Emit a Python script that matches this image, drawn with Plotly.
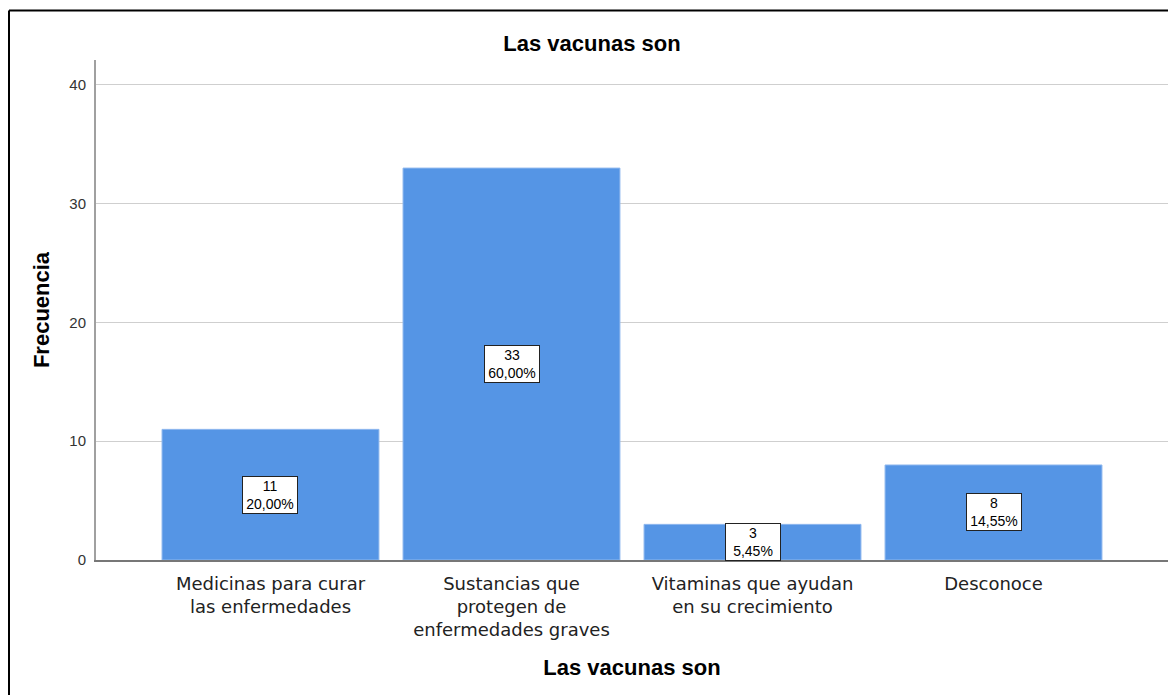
import plotly.graph_objects as go

# data
categorias = ['Medicinas para curar<br>las enfermedades',
              'Sustancias que<br>protegen de<br>enfermedades graves',
              'Vitaminas que ayudan<br>en su crecimiento',
              'Desconoce']
frecuencias = [11, 33, 3, 8]
y_ticks = [0, 10, 20, 30, 40]

total = sum(frecuencias)
porcentajes = [f / total * 100 for f in frecuencias]

# page has an 8px body margin, so the figure is 8px smaller than the window
W, H = 1168, 687
L, R, T, B = 88, 8, 52, 135

fig = go.Figure()
fig.add_trace(go.Bar(
    x=categorias, y=frecuencias,
    marker=dict(color='#5595e5', line=dict(color='#8fb8ee', width=1)),
    hoverinfo='skip'))

# boxed labels in the middle of each bar
for cat, f, p in zip(categorias, frecuencias, porcentajes):
    txt = '%d<br>%s%%' % (f, ('%.2f' % p).replace('.', ','))
    fig.add_annotation(x=cat, y=f / 2, text=txt, showarrow=False,
                       font=dict(family='Liberation Sans, Arial', size=14, color='black'),
                       width=52, bgcolor='white', bordercolor='#222',
                       borderwidth=1, borderpad=1)

# outer frame (left and top only, like the export)
px_w = W - L - R
px_h = H - T - B
fx = (1 - L) / px_w
fy = (H - B - 2.5) / px_h
fig.add_shape(type='line', xref='paper', yref='paper', x0=fx, x1=1.05, y0=fy, y1=fy,
              line=dict(color='black', width=2))
fig.add_shape(type='line', xref='paper', yref='paper', x0=fx, x1=fx, y0=fy, y1=-0.3,
              line=dict(color='black', width=2))

fig.update_layout(
    width=W, height=H,
    margin=dict(l=L, r=R, t=T, b=B),
    paper_bgcolor='white', plot_bgcolor='white',
    bargap=0.1, showlegend=False,
    font=dict(family='Liberation Sans, Arial', color='#222'),
    title=dict(text='<b>Las vacunas son</b>', x=0.5, xanchor='center',
               y=1 - 35 / H, yanchor='middle',
               font=dict(size=22, color='black')))

fig.update_xaxes(range=[-0.724, 3.724], showline=True, linecolor='#777', linewidth=2,
                 tickfont=dict(family='DejaVu Sans', size=18, color='#222'), ticks='',
                 ticklabelstandoff=6,
                 title=dict(text='<b>Las vacunas son</b>', font=dict(size=22, color='black'),
                            standoff=20))
fig.update_yaxes(range=[0, 42.1], tickvals=y_ticks, showline=True, linecolor='#a0a0a0',
                 linewidth=2, showgrid=True, gridcolor='#cfcfcf', gridwidth=1,
                 zeroline=False, ticks='', tickfont=dict(size=15, color='#333'),
                 ticklabelstandoff=5,
                 title=dict(text='<b>Frecuencia</b>', font=dict(size=22, color='black'),
                            standoff=14))

fig.write_html('out.html')
